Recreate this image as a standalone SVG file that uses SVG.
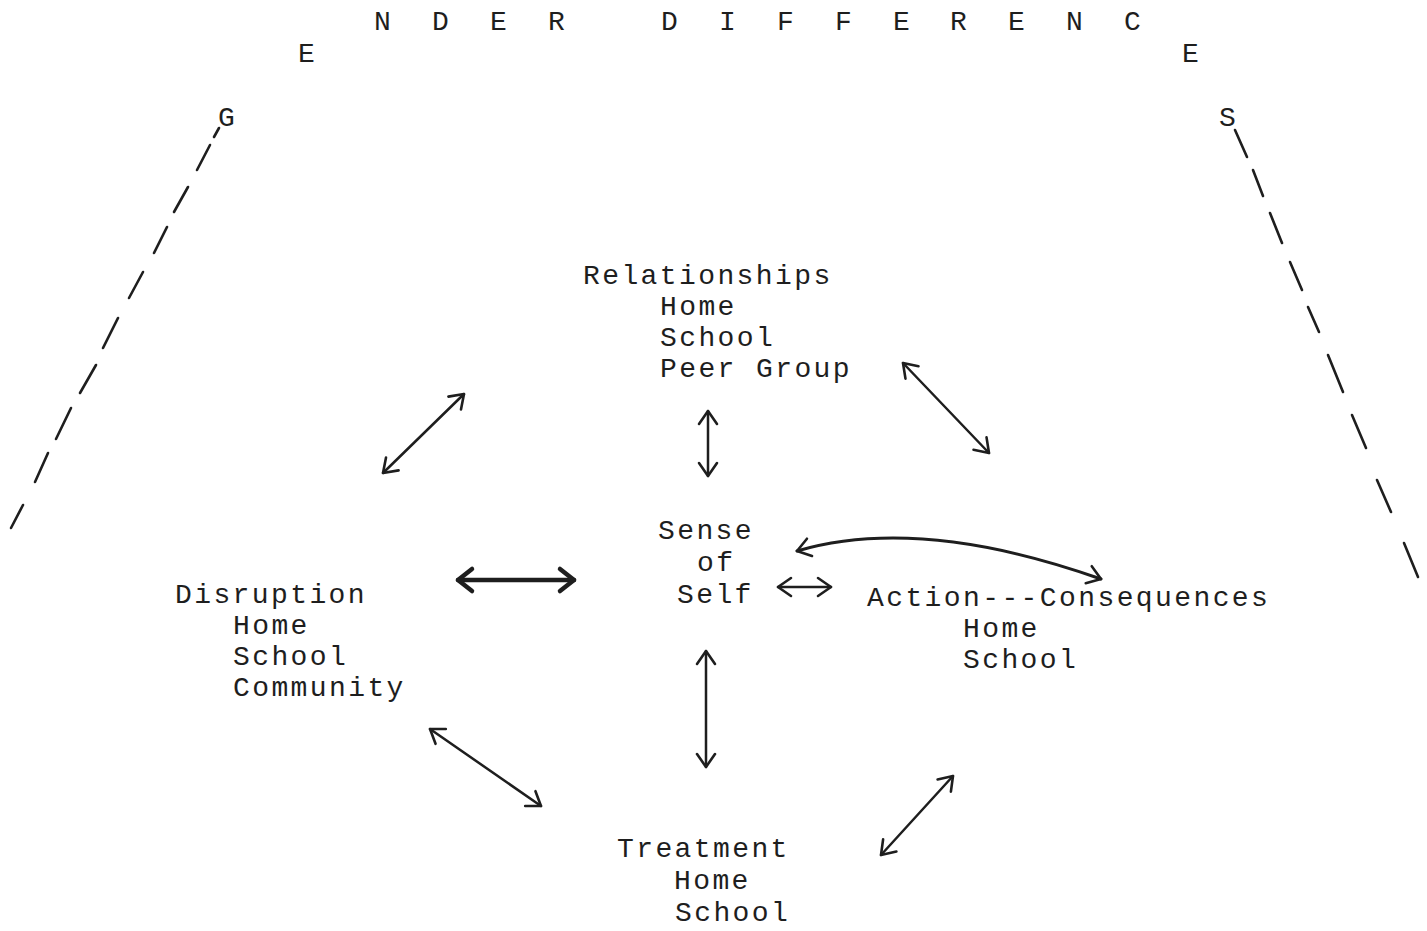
<svg xmlns="http://www.w3.org/2000/svg" width="1427" height="931" viewBox="0 0 1427 931">
<style>
text{font-family:"Liberation Mono","Courier New",monospace;fill:#1e1e1e;font-size:28px;letter-spacing:2.4px}
.t{font-size:28px;letter-spacing:0}
.c{stroke:#1e1e1e;stroke-width:2.5;fill:none;stroke-linecap:round}
.d{stroke:#1e1e1e;stroke-width:2.6;stroke-linecap:round}
</style>
<defs>
<marker id="ah" markerUnits="userSpaceOnUse" markerWidth="40" markerHeight="40" viewBox="-20 -20 40 40" refX="0" refY="0" orient="auto-start-reverse" overflow="visible"><path d="M-13,-9 L0,0 L-13,9" fill="none" stroke="#1e1e1e" stroke-width="2.6" stroke-linecap="round" stroke-linejoin="round"/></marker>
<marker id="ahb" markerUnits="userSpaceOnUse" markerWidth="40" markerHeight="40" viewBox="-20 -20 40 40" refX="0" refY="0" orient="auto-start-reverse" overflow="visible"><path d="M-14,-11 L0,0 L-14,11" fill="none" stroke="#1e1e1e" stroke-width="4.5" stroke-linecap="round" stroke-linejoin="round"/></marker>
</defs>
<rect width="1427" height="931" fill="#fff"/>
<g id="title">
<text class="t" x="374 432 490 548 661 719 777 835 893 950 1008 1066 1124" y="30">NDERDIFFERENC</text>
<text class="t" x="298" y="62">E</text>
<text class="t" x="1182" y="62">E</text>
<text class="t" x="218" y="126">G</text>
<text class="t" x="1219" y="126">S</text>
</g>
<g id="borders">
<line class="d" x1="219" y1="128" x2="214" y2="137"/>
<line class="d" x1="210" y1="145" x2="197" y2="170"/>
<line class="d" x1="188" y1="187" x2="174" y2="212"/>
<line class="d" x1="167" y1="227" x2="154" y2="253"/>
<line class="d" x1="143" y1="272" x2="129" y2="298"/>
<line class="d" x1="118" y1="318" x2="103" y2="348"/>
<line class="d" x1="96" y1="365" x2="80" y2="393"/>
<line class="d" x1="71" y1="408" x2="56" y2="439"/>
<line class="d" x1="48" y1="453" x2="35" y2="482"/>
<line class="d" x1="23" y1="505" x2="11" y2="528"/>
<line class="d" x1="1235" y1="130" x2="1247" y2="157"/>
<line class="d" x1="1253" y1="170" x2="1263" y2="196"/>
<line class="d" x1="1270" y1="213" x2="1282" y2="243"/>
<line class="d" x1="1290" y1="262" x2="1302" y2="290"/>
<line class="d" x1="1308" y1="307" x2="1319" y2="332"/>
<line class="d" x1="1328" y1="355" x2="1343" y2="392"/>
<line class="d" x1="1352" y1="415" x2="1366" y2="448"/>
<line class="d" x1="1377" y1="480" x2="1391" y2="512"/>
<line class="d" x1="1404" y1="543" x2="1418" y2="577"/>
</g>
<g id="relationships">
<text x="583" y="284">Relationships</text>
<text x="660" y="315">Home</text>
<text x="660" y="346">School</text>
<text x="660" y="377">Peer Group</text>
</g>
<g id="sense-of-self">
<text x="658" y="539">Sense</text>
<text x="697" y="571">of</text>
<text x="677" y="603">Self</text>
</g>
<g id="disruption">
<text x="175" y="603">Disruption</text>
<text x="233" y="634">Home</text>
<text x="233" y="665">School</text>
<text x="233" y="696">Community</text>
</g>
<g id="action-consequences">
<text x="867" y="606">Action---Consequences</text>
<text x="963" y="637">Home</text>
<text x="963" y="668">School</text>
</g>
<g id="treatment">
<text x="617" y="857">Treatment</text>
<text x="674" y="889">Home</text>
<text x="675" y="921">School</text>
</g>
<g id="connectors">
<line class="c" x1="383" y1="473" x2="464" y2="394" marker-start="url(#ah)" marker-end="url(#ah)"/>
<line class="c" x1="708" y1="411" x2="708" y2="476" marker-start="url(#ah)" marker-end="url(#ah)"/>
<line class="c" x1="903" y1="363" x2="989" y2="453" marker-start="url(#ah)" marker-end="url(#ah)"/>
<line class="c" style="stroke-width:4.5" x1="458" y1="580" x2="574" y2="580" marker-start="url(#ahb)" marker-end="url(#ahb)"/>
<line class="c" x1="778" y1="587" x2="831" y2="587" marker-start="url(#ah)" marker-end="url(#ah)"/>
<path class="c" style="stroke-width:3" d="M797,551 Q920,515 1101,579" marker-start="url(#ah)" marker-end="url(#ah)"/>
<line class="c" x1="706" y1="651" x2="706" y2="767" marker-start="url(#ah)" marker-end="url(#ah)"/>
<line class="c" x1="430" y1="729" x2="541" y2="806" marker-start="url(#ah)" marker-end="url(#ah)"/>
<line class="c" x1="881" y1="855" x2="953" y2="776" marker-start="url(#ah)" marker-end="url(#ah)"/>
</g>
</svg>
